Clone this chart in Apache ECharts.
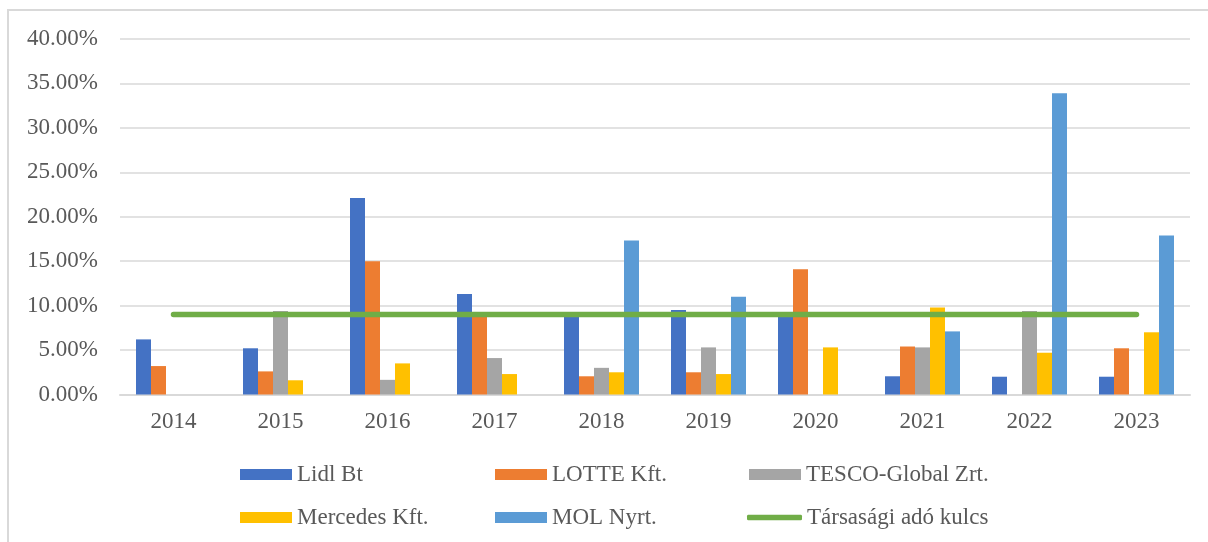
<!DOCTYPE html>
<html>
<head>
<meta charset="utf-8">
<script src="https://cdn.jsdelivr.net/npm/echarts@6/dist/echarts.min.js"></script>
<style>
  html, body { margin: 0; padding: 0; background: #fff; }
  #chart { width: 1208px; height: 542px; }
</style>
</head>
<body>
<div id="chart"></div>
<script>
const years = ['2014', '2015', '2016', '2017', '2018', '2019', '2020', '2021', '2022', '2023']

// effective tax rates, %
const lidl = [6.2, 5.2, 22.1, 11.3, 8.8, 9.5, 8.8, 2.05, 2.0, 2.0]
const lotte = [3.2, 2.6, 15.0, 8.9, 2.05, 2.5, 14.1, 5.4, null, 5.2]
const tesco = [null, 9.4, 1.65, 4.1, 3.0, 5.3, null, 5.3, 9.4, null]
const mercedes = [0, 1.6, 3.5, 2.3, 2.5, 2.3, 5.3, 9.8, 4.7, 7.0]
const mol = [null, null, null, null, 17.33, 11.0, null, 7.1, 33.9, 17.9]
const taxRate = [9, 9, 9, 9, 9, 9, 9, 9, 9, 9]

const font = 'Liberation Serif, Times New Roman, serif'
const textColor = '#595959'

const chart = echarts.init(document.getElementById('chart'))

const bar = (name, data, color) => ({
  name,
  type: 'bar',
  data,
  barWidth: 15,
  barGap: '0%',
  itemStyle: { color }
})

const legendText = { fontFamily: font, fontSize: 23, color: textColor }
const legendCol = (left, top, names, extra) => Object.assign({
  orient: 'vertical',
  left,
  top,
  padding: 0,
  icon: 'rect',
  itemWidth: 52,
  itemHeight: 11,
  itemGap: 20,
  data: names,
  textStyle: legendText,
  selectedMode: false
}, extra || {})

const option = {
  animation: false,
  graphic: [{
    type: 'rect',
    shape: { x: 8, y: 10, width: 1300, height: 600 },
    style: { fill: 'none', stroke: '#d9d9d9', lineWidth: 2 },
    silent: true
  }],
  legend: [
    legendCol(240, 463, ['Lidl Bt', 'Mercedes Kft.']),
    legendCol(495, 463, ['LOTTE Kft.', 'MOL Nyrt.']),
    legendCol(749, 463, ['TESCO-Global Zrt.']),
    legendCol(747, 506, ['Társasági adó kulcs'], { icon: 'roundRect', itemWidth: 55, itemHeight: 5.5 })
  ],
  grid: { left: 120, right: 18, top: 39, height: 355.5 },
  xAxis: {
    type: 'category',
    data: years,
    axisLine: { lineStyle: { color: '#d9d9d9', width: 2 } },
    axisTick: { show: false },
    axisLabel: { fontFamily: font, fontSize: 23, color: textColor, margin: 16 }
  },
  yAxis: {
    type: 'value',
    min: 0,
    max: 40,
    interval: 5,
    axisLine: { show: false },
    axisTick: { show: false },
    splitLine: { lineStyle: { color: '#d9d9d9', width: 1.5 } },
    axisLabel: {
      fontFamily: font, fontSize: 23, color: textColor, margin: 22,
      formatter: v => v.toFixed(2) + '%'
    }
  },
  series: [
    bar('Lidl Bt', lidl, '#4472C4'),
    bar('LOTTE Kft.', lotte, '#ED7D31'),
    bar('TESCO-Global Zrt.', tesco, '#A5A5A5'),
    bar('Mercedes Kft.', mercedes, '#FFC000'),
    bar('MOL Nyrt.', mol, '#5B9BD5'),
    {
      name: 'Társasági adó kulcs',
      type: 'line',
      data: taxRate,
      symbol: 'none',
      z: 5,
      itemStyle: { color: '#70AD47' },
      lineStyle: { color: '#70AD47', width: 5.5, cap: 'round' }
    }
  ]
}

chart.setOption(option)
</script>
</body>
</html>
